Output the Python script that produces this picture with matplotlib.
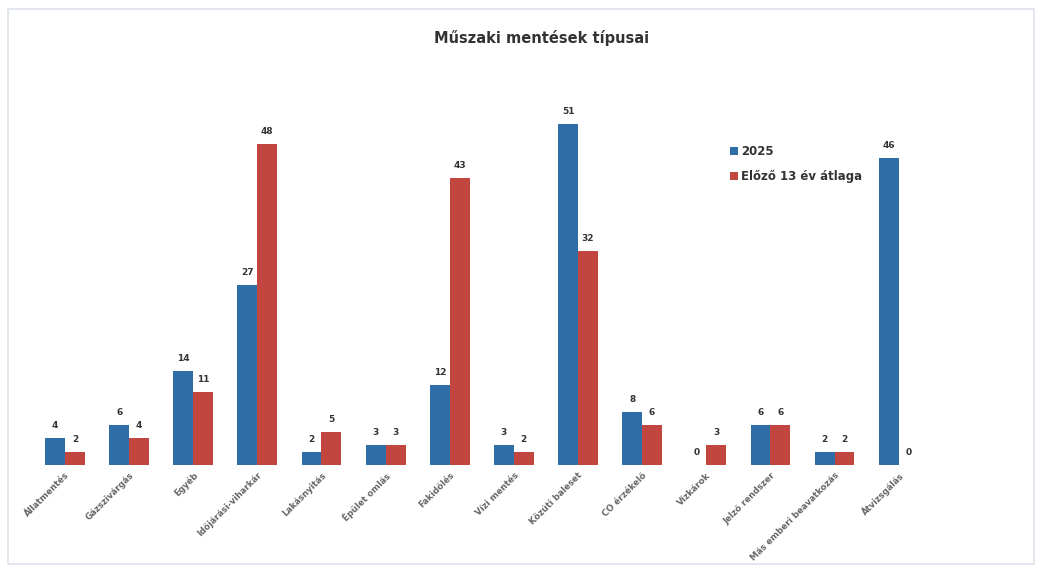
import numpy as np
import matplotlib
matplotlib.use("Agg")
import matplotlib.pyplot as plt

# data
categories = ["Állatmentés", "Gázszivárgás", "Egyéb", "Időjárási-viharkár",
              "Lakásnyitás", "Épület omlás", "Fakidőlés", "Vízi mentés",
              "Közúti baleset", "CO érzékelő", "Vízkárok", "Jelző rendszer",
              "Más emberi beavatkozás", "Átvizsgálás"]
y2025 = [4, 6, 14, 27, 2, 3, 12, 3, 51, 8, 0, 6, 2, 46]
avg13 = [2, 4, 11, 48, 5, 3, 43, 2, 32, 6, 3, 6, 2, 0]

blue = "#2f6da8"
red = "#c0463f"

fig = plt.figure(figsize=(10.42, 5.71), dpi=100)
ax = fig.add_axes([0.0254, 0.1856, 0.874, 0.702])

x = np.arange(len(categories))
w = 0.31
b1 = ax.bar(x - w/2, y2025, w, color=blue, label="2025")
b2 = ax.bar(x + w/2, avg13, w, color=red, label="Előző 13 év átlaga")

for bars, vals in ((b1, y2025), (b2, avg13)):
    for r, v in zip(bars, vals):
        ax.text(r.get_x() + r.get_width()/2, v + 1.2, str(v), ha="center", va="bottom",
                fontsize=6.5, fontweight="bold", color="#333333")

ax.set_xlim(-0.6, 13.6)
ax.set_ylim(0, 60)
ax.set_yticks([])
ax.set_xticks(x)
ax.set_xticklabels(categories, rotation=45, ha="right", rotation_mode="anchor",
                   fontsize=6.2, fontweight="bold", color="#666666")
ax.tick_params(axis="x", length=0, pad=4)
for s in ax.spines.values():
    s.set_visible(False)

fig.text(0.52, 0.933, "Műszaki mentések típusai", ha="center", va="center",
         fontsize=10.5, fontweight="bold", color="#333333")

leg = ax.legend(loc="upper left", bbox_to_anchor=(0.69, 0.765), bbox_transform=fig.transFigure,
                frameon=False, fontsize=8.5, handlelength=0.7, handleheight=0.7,
                handletextpad=0.3, labelspacing=1.0)
for t in leg.get_texts():
    t.set_fontweight("bold")
    t.set_color("#333333")

# light frame of the scanned page
fig.patches.append(plt.Rectangle((0.008, 0.012), 0.984, 0.972, transform=fig.transFigure,
                                 fill=False, edgecolor="#dde3ea", linewidth=1.2))

fig.savefig("out.png", dpi=100)
